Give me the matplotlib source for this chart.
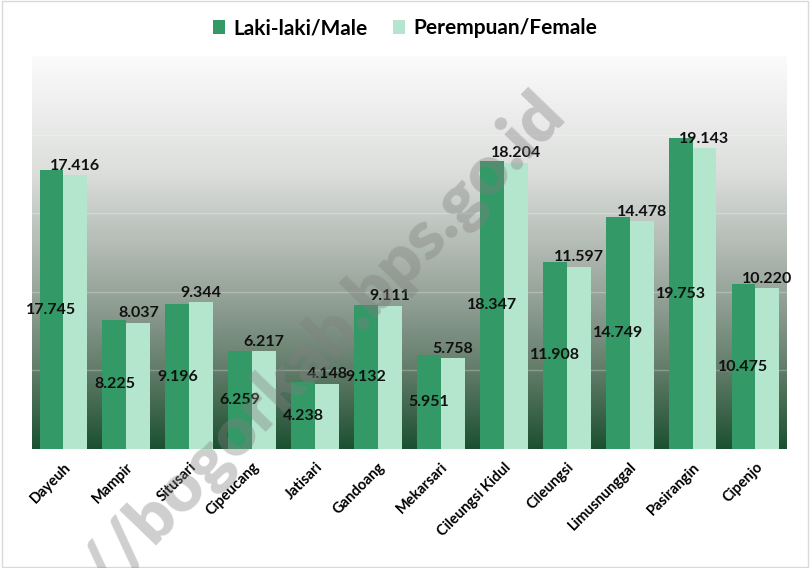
import matplotlib
matplotlib.use("Agg")
import matplotlib.pyplot as plt
from matplotlib.colors import LinearSegmentedColormap
import numpy as np

desa = ["Dayeuh", "Mampir", "Situsari", "Cipeucang", "Jatisari", "Gandoang",
        "Mekarsari", "Cileungsi Kidul", "Cileungsi", "Limusnunggal",
        "Pasirangin", "Cipenjo"]
laki = [17745, 8225, 9196, 6259, 4238, 9132, 5951, 18347, 11908, 14749, 19753, 10475]
perempuan = [17416, 8037, 9344, 6217, 4148, 9111, 5758, 18204, 11597, 14478, 19143, 10220]

def fmt(v):
    # thousands with a dot, like the source
    return f"{v:,}".replace(",", ".")

plt.rcParams['font.family'] = ['Lato', 'DejaVu Sans']

fig = plt.figure(figsize=(8.1, 5.68), dpi=100)
fig.patch.set_facecolor("white")
# thin border round the chart
fig.add_artist(plt.Rectangle((0.002, 0.002), 0.996, 0.996, transform=fig.transFigure,
                             fill=False, edgecolor="#d9d9d9", lw=1))

ax = fig.add_axes([0.0395, 0.2095, 0.932, 0.692])
ymax = 25000
x = np.arange(len(desa))
w = 0.38

# gradient background, white at the top, dark green at the bottom
cmap = LinearSegmentedColormap.from_list("bg", [(0.0, "#fbfbfb"), (0.3, "#dcdedc"),
                                                (0.6, "#98a59b"), (0.8, "#627c69"),
                                                (1.0, "#1c5031")])
grad = np.linspace(0, 1, 256).reshape(-1, 1)
ax.imshow(grad, cmap=cmap, aspect="auto", extent=(-0.5, len(desa) - 0.5, 0, ymax),
          origin="upper", zorder=0)

for gy in [5000, 10000, 15000, 20000, 25000]:
    ax.axhline(gy, color="white", alpha=0.25, lw=1, zorder=1)

b1 = ax.bar(x - w / 2, laki, w, color="#339966", label="Laki-laki/Male", zorder=2)
b2 = ax.bar(x + w / 2, perempuan, w, color="#b3e6cc", label="Perempuan/Female", zorder=2)

for xi, v in zip(x, laki):
    ax.text(xi - w / 2, v / 2, fmt(v), ha="center", va="center", fontsize=11.5,
            fontweight="bold", color="#111111", zorder=4)
for xi, v in zip(x, perempuan):
    ax.text(xi + w / 2, v + 150, fmt(v), ha="center", va="bottom", fontsize=11.5,
            fontweight="bold", color="#111111", zorder=4)

ax.set_xlim(-0.5, len(desa) - 0.5)
ax.set_ylim(0, ymax)
ax.set_yticks([])
ax.set_xticks(x)
ax.set_xticklabels(desa, rotation=45, ha="right", rotation_mode="anchor",
                   fontsize=10.5, fontweight="bold")
ax.tick_params(axis="x", length=0, pad=8)
for s in ax.spines.values():
    s.set_visible(False)

fig.legend(handles=[b1, b2], loc="center", bbox_to_anchor=(0.5, 0.95), ncol=2,
           frameon=False, prop={"weight": "bold", "size": 15}, handlelength=0.6,
           handleheight=0.6, columnspacing=1.2, handletextpad=0.4)

# watermark
fig.text(0.32, 0.285, "https://bogorkab.bps.go.id", rotation=46, ha="center", va="center",
         fontsize=50, fontweight="heavy", color="gray", alpha=0.38, zorder=10)

fig.savefig("out.png", dpi=100)
